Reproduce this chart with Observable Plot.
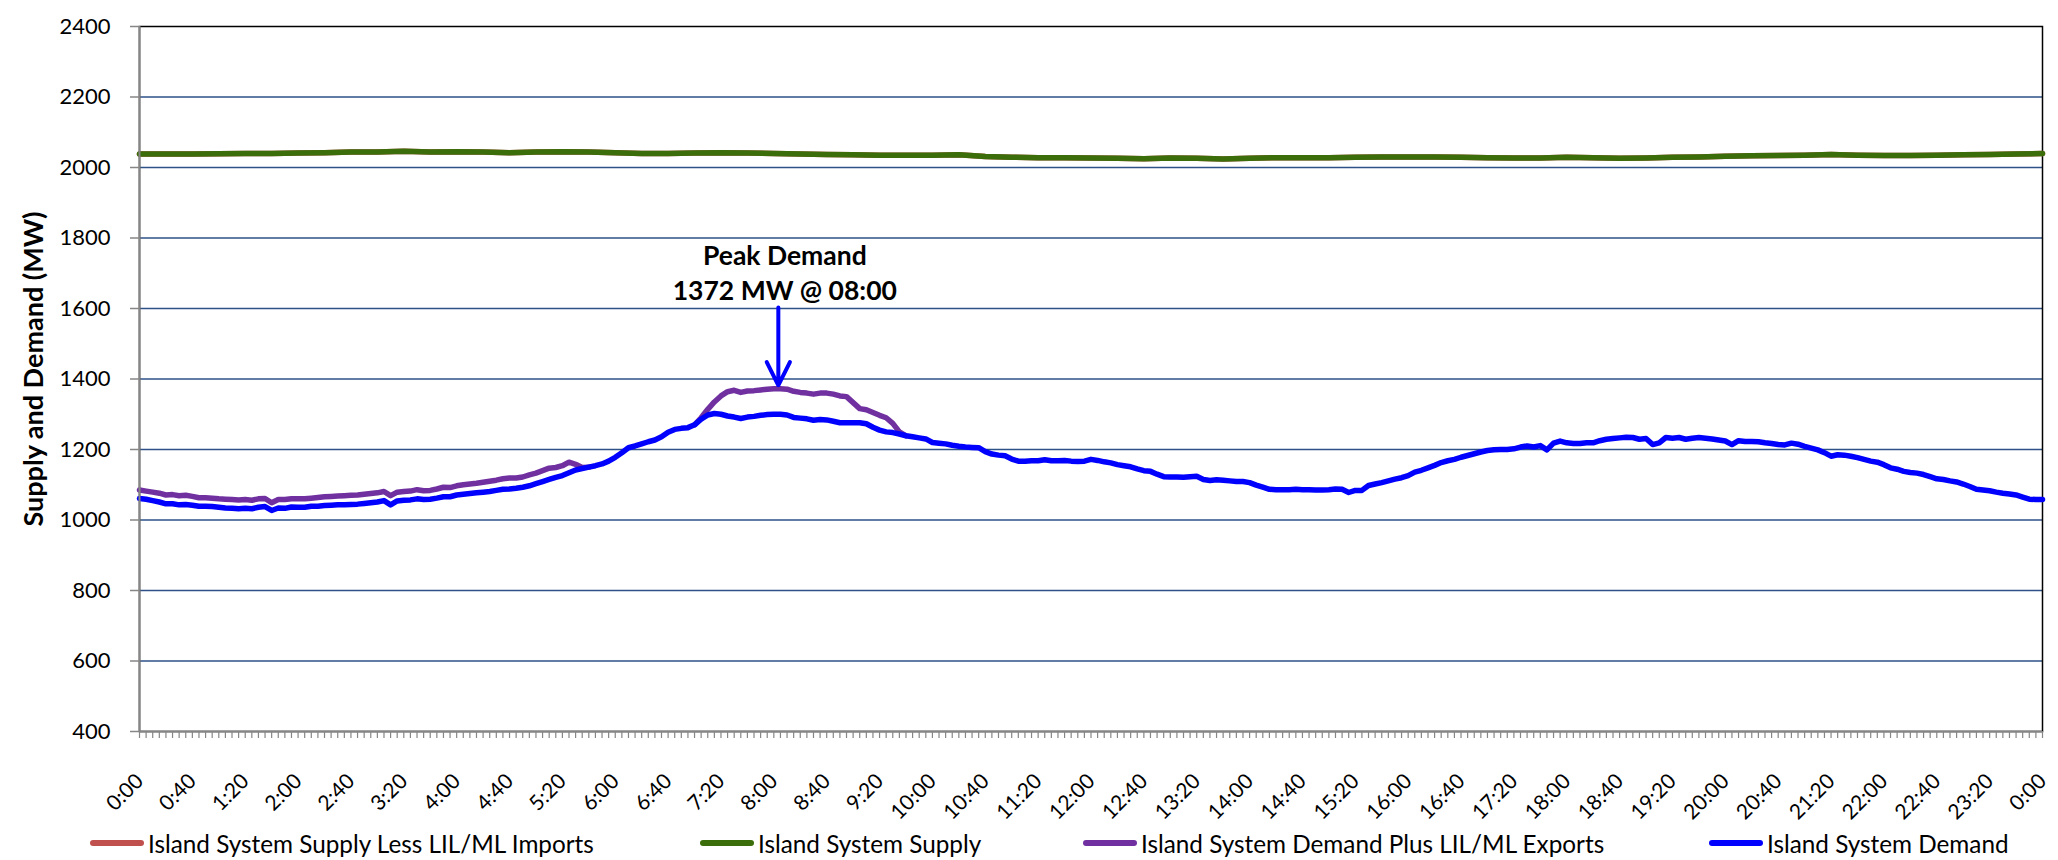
<!DOCTYPE html>
<html>
<head>
<meta charset="utf-8">
<script src="https://cdn.jsdelivr.net/npm/d3@7"></script>
<script src="https://cdn.jsdelivr.net/npm/@observablehq/plot@0.6"></script>
<style>
  html, body { margin: 0; padding: 0; background: #fff; }
  #wrap { position: relative; width: 2058px; height: 860px; font-family: Lato, "Open Sans", sans-serif; }
  #chart { position: absolute; left: 0; top: 0; }
  #legend { position: absolute; left: 0; top: 826px; width: 2058px; height: 34px; }
  .item { position: absolute; top: 0; height: 34px; display: flex; align-items: center; font-size: 24.3px; color: #000; white-space: nowrap; }
  .sw { display: inline-block; width: 54px; height: 6px; border-radius: 3px; margin-right: 4px; }
</style>
</head>
<body>
<div id="wrap">
  <div id="chart"></div>
  <div id="legend"></div>
</div>
<script>
// ---------- data (5-minute intervals, index 0 = 0:00 ... 288 = 24:00) ----------
const xTickLabels = ["0:00","0:40","1:20","2:00","2:40","3:20","4:00","4:40","5:20","6:00","6:40","7:20","8:00","8:40","9:20","10:00","10:40","11:20","12:00","12:40","13:20","14:00","14:40","15:20","16:00","16:40","17:20","18:00","18:40","19:20","20:00","20:40","21:20","22:00","22:40","23:20","0:00"];
const yTicks = [400, 600, 800, 1000, 1200, 1400, 1600, 1800, 2000, 2200, 2400];
const gridValues = [600, 800, 1000, 1200, 1400, 1600, 1800, 2000, 2200];

// Island System Demand (MW), every 5 min
const demand = [
1061,1059,1055,1051,1046,1046,1043,1044,1042,1039,
1039,1038,1036,1034,1033,1032,1033,1032,1036,1038,
1027,1034,1033,1037,1036,1036,1039,1039,1041,1042,
1043,1043,1044,1045,1047,1049,1051,1055,1043,1054,
1056,1057,1060,1058,1059,1062,1066,1066,1071,1073,
1075,1077,1079,1081,1084,1087,1088,1090,1093,1097,
1103,1109,1115,1121,1126,1134,1142,1146,1150,1154,
1159,1167,1178,1191,1205,1210,1216,1222,1227,1236,
1249,1257,1260,1262,1270,1286,1298,1302,1300,1295,
1292,1288,1292,1294,1297,1299,1300,1300,1298,1291,
1289,1287,1283,1285,1284,1280,1276,1276,1276,1276,
1273,1263,1255,1250,1248,1244,1239,1236,1233,1230,
1220,1218,1216,1212,1209,1207,1206,1205,1194,1187,
1184,1182,1173,1167,1167,1168,1168,1171,1168,1168,
1169,1167,1166,1167,1172,1169,1165,1162,1157,1154,
1151,1145,1140,1138,1130,1123,1122,1122,1121,1123,
1124,1115,1112,1114,1113,1111,1109,1109,1106,1099,
1093,1087,1086,1086,1086,1087,1086,1086,1085,1085,
1086,1088,1087,1078,1084,1084,1098,1102,1106,1111,
1116,1120,1126,1136,1141,1148,1155,1163,1168,1172,
1178,1183,1188,1193,1197,1199,1200,1200,1202,1207,
1210,1207,1211,1199,1218,1224,1219,1217,1217,1219,
1219,1225,1229,1231,1233,1235,1234,1229,1231,1214,
1219,1234,1232,1234,1229,1232,1234,1232,1230,1227,
1224,1214,1225,1223,1223,1222,1219,1217,1214,1213,
1218,1215,1209,1204,1199,1191,1181,1185,1184,1181,
1177,1172,1167,1164,1157,1148,1144,1138,1135,1133,
1129,1123,1117,1115,1111,1108,1102,1095,1087,1085,
1083,1079,1076,1074,1071,1065,1059,1058,1058
];

// Island System Demand Plus LIL/ML Exports (MW); null where it lies under the demand line
const demandPlusExports = [
1085,1082,1079,1076,1071,1072,1069,1070,1067,1063,
1063,1062,1060,1059,1058,1057,1058,1056,1060,1061,
1049,1058,1058,1060,1060,1060,1062,1064,1066,1067,
1068,1069,1070,1071,1073,1075,1077,1081,1069,1079,
1081,1082,1086,1083,1084,1088,1093,1092,1097,1100,
1102,1104,1107,1110,1113,1117,1119,1119,1122,1128,
1133,1140,1147,1149,1154,1164,1158,1149,1150,null,
null,null,null,null,null,null,null,null,null,null,
null,null,null,null,1270,1290,1314,1335,1352,1364,
1368,1362,1366,1367,1369,1371,1372,1372,1371,1365,
1362,1360,1357,1360,1360,1357,1352,1350,1333,1316,
1313,1305,1297,1290,1274,1250,1239
];

// Island System Supply (MW), every 20 min
const supply = [
2038,2038,2038,2039,2040,2040,2041,2042,2044,2044,
2046,2044,2045,2044,2042,2044,2045,2044,2042,2040,
2040,2041,2042,2041,2040,2038,2037,2036,2035,2035,
2035,2036,2031,2029,2028,2028,2027,2026,2025,2027,
2026,2024,2026,2028,2028,2028,2029,2030,2030,2030,
2029,2028,2027,2027,2029,2028,2026,2027,2029,2030,
2032,2033,2034,2035,2037,2035,2034,2034,2035,2036,
2037,2038,2040
];
// Island System Supply Less LIL/ML Imports (MW): coincides with supply (no imports), hidden beneath it
const supplyLessImports = supply.slice();

// Annotation
const peakLabel = ["Peak Demand", "1372 MW @ 08:00"];
const peakIndex = 96;           // 08:00
const peakValue = 1372;

const seriesNames = ["Island System Supply Less LIL/ML Imports", "Island System Supply", "Island System Demand Plus LIL/ML Exports", "Island System Demand"];
const seriesColors = ["#C0504D", "#3B6E0B", "#7030A0", "#0000FF"];

// ---------- build ----------
const rows = demand.map((v, i) => ({i, demand: v, exp: i < demandPlusExports.length ? demandPlusExports[i] : null}));
const supplyRows = supply.map((v, k) => ({i: k * 4, v, less: supplyLessImports[k]}));
const labelRows = xTickLabels.map((t, k) => ({i: k * 8, t}));

const chart = Plot.plot({
  width: 2058,
  height: 826,
  marginLeft: 139,
  marginRight: 16,
  marginTop: 26,
  marginBottom: 95,
  x: {domain: [0, 288], axis: null},
  y: {domain: [400, 2400], axis: null},
  style: {fontFamily: "Lato, 'Open Sans', sans-serif", background: "white", color: "black"},
  marks: [
    Plot.gridY(gridValues, {stroke: "#2E5287", strokeOpacity: 1, strokeWidth: 1.4}),
    Plot.frame({stroke: "black", strokeWidth: 1.5}),
    Plot.line(supplyRows, {x: "i", y: "less", stroke: seriesColors[0], strokeWidth: 5.5}),
    Plot.line(supplyRows, {x: "i", y: "v", stroke: seriesColors[1], strokeWidth: 5.5}),
    Plot.line(rows, {x: "i", y: "exp", stroke: seriesColors[2], strokeWidth: 5.5}),
    Plot.line(rows, {x: "i", y: "demand", stroke: seriesColors[3], strokeWidth: 5.5}),
    Plot.ruleX([0], {stroke: "#868686", strokeWidth: 2}),
    Plot.ruleY([400], {stroke: "#868686", strokeWidth: 2}),
    Plot.axisY({ticks: yTicks, tickSize: 9, tickPadding: 20, tickFormat: d => String(d), fontSize: 22, stroke: "#868686", strokeWidth: 1.5, fill: "black", label: null}),
    Plot.axisX({ticks: d3.range(0, 289), tickSize: 7, tickFormat: () => "", stroke: "#868686", strokeWidth: 1.2, label: null}),
    Plot.text(labelRows, {x: "i", y: () => 400, text: "t", rotate: -45, textAnchor: "end", lineAnchor: "bottom", dx: 5, dy: 51, fontSize: 21, fill: "black"}),
    Plot.text(["Supply and Demand (MW)"], {frameAnchor: "left", textAnchor: "middle", rotate: -90, dx: -105, dy: -10, fontSize: 27, fontWeight: "bold", lineAnchor: "middle", fill: "black"}),
    Plot.text([{t: peakLabel[0], y: 1722}, {t: peakLabel[1], y: 1623}], {x: () => peakIndex, y: "y", text: "t", dx: 11, fontSize: 26.5, fontWeight: "bold", lineAnchor: "bottom", fill: "black"}),
    Plot.arrow([{y1: 1603, y2: peakValue + 10}], {x1: () => peakIndex, x2: () => peakIndex, y1: "y1", y2: "y2", dx: 4.5, stroke: "#0000FF", strokeWidth: 4, headLength: 22, headAngle: 53})
  ]
});
document.getElementById("chart").appendChild(chart);

// legend (HTML, below the SVG)
const legendPos = [90, 700, 1083, 1709];
const legend = document.getElementById("legend");
seriesNames.forEach((name, k) => {
  const item = document.createElement("div");
  item.className = "item";
  item.style.left = legendPos[k] + "px";
  item.innerHTML = `<span class="sw" style="background:${seriesColors[k]}"></span><span>${name}</span>`;
  legend.appendChild(item);
});
</script>
</body>
</html>
